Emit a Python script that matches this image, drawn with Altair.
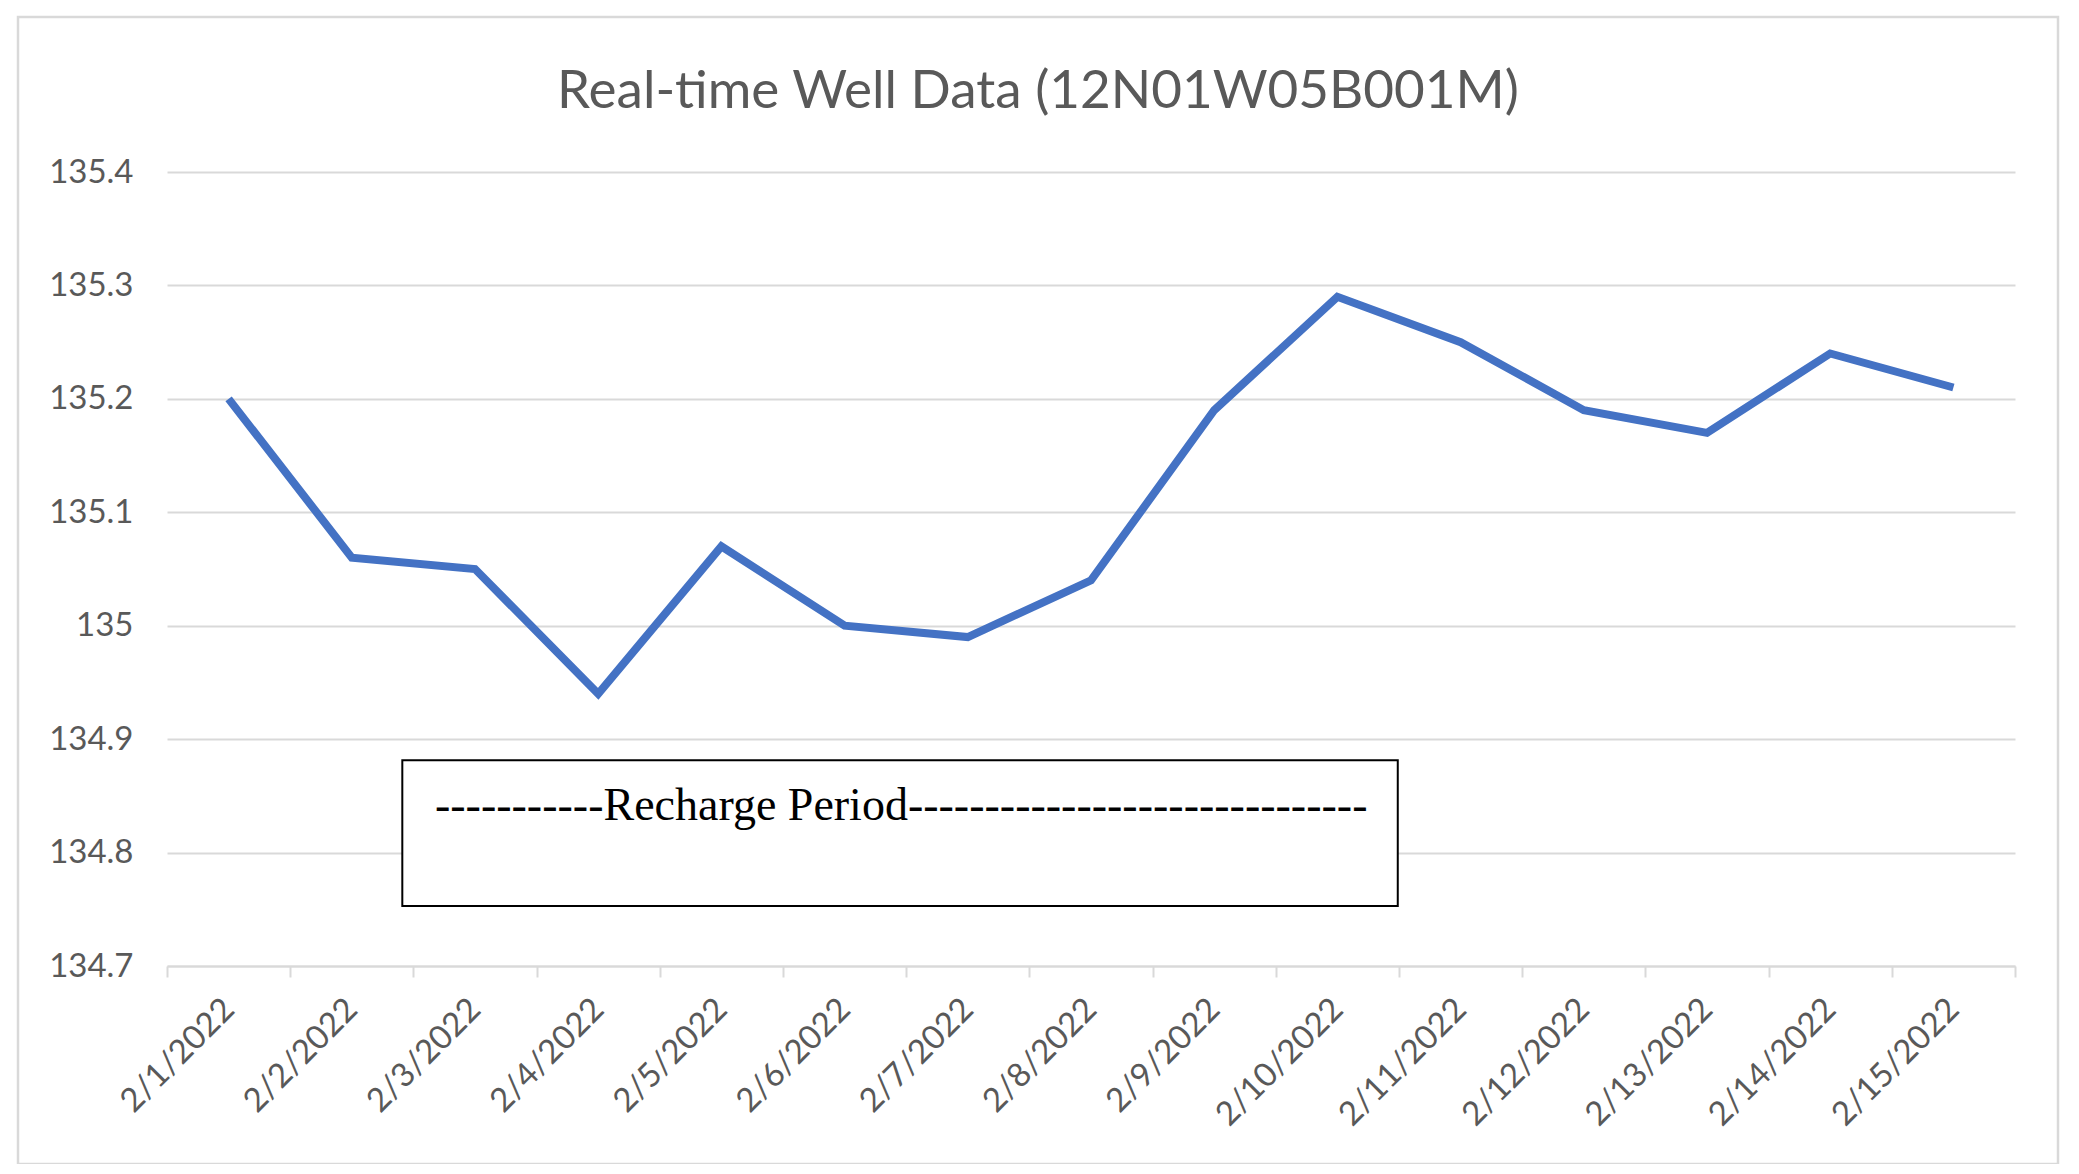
import altair as alt
import pandas as pd

# ---- data ----
dates = ["2/1/2022", "2/2/2022", "2/3/2022", "2/4/2022", "2/5/2022",
         "2/6/2022", "2/7/2022", "2/8/2022", "2/9/2022", "2/10/2022",
         "2/11/2022", "2/12/2022", "2/13/2022", "2/14/2022", "2/15/2022"]
levels = [135.20, 135.06, 135.05, 134.94, 135.07,
          135.00, 134.99, 135.04, 135.19, 135.29,
          135.25, 135.19, 135.17, 135.24, 135.21]
y_ticks = [134.7, 134.8, 134.9, 135.0, 135.1, 135.2, 135.3, 135.4]

title_text = "Real-time Well Data (12N01W05B001M)"
note_text = "-" * 11 + "Recharge Period" + "-" * 30

# annotation box, in data units (x = category index, y = level)
box_x = [1.41]
box_x2 = [9.49]
box_y = [134.753]
box_y2 = [134.8815]
note_x = [1.675]
note_y = [134.829]

W, H = 1848, 794
GRID = "#D9D9D9"
TXT = "#595959"
FONT = "Lato"

df = pd.DataFrame({"date": dates, "level": levels})
box_df = pd.DataFrame({"x": box_x, "x2": box_x2, "y": box_y, "y2": box_y2})
note_df = pd.DataFrame({"x": note_x, "y": note_y, "t": [note_text]})

yscale = alt.Scale(domain=[y_ticks[0], y_ticks[-1]], nice=False, zero=False)
qx = alt.Scale(domain=[-0.5, len(dates) - 0.5], nice=False, zero=False)
yaxis = alt.Axis(values=y_ticks, format=".1~f", domain=False, ticks=False,
                 gridColor=GRID, gridWidth=2, labelPadding=34,
                 labelFont=FONT, labelFontSize=33, labelColor=TXT)

frame = alt.Chart(pd.DataFrame({"a": [0]})).mark_rect(
    fillOpacity=0, stroke=GRID, strokeWidth=2.5
).encode(
    x=alt.value(-149), x2=alt.value(1891), y=alt.value(-155), y2=alt.value(992)
)

line = alt.Chart(df).mark_line(color="#4472C4", strokeWidth=8, strokeJoin="miter").encode(
    x=alt.X("date:N", sort=None, title=None,
            scale=alt.Scale(paddingInner=0, paddingOuter=0),
            axis=alt.Axis(tickBand="extent", tickSize=11, tickColor=GRID, tickWidth=2,
                          domainColor=GRID, domainWidth=2, grid=False,
                          labelAngle=-45, labelAlign="right", labelBaseline="middle",
                          labelPadding=27, labelFont=FONT, labelFontSize=33,
                          labelColor=TXT)),
    y=alt.Y("level:Q", scale=yscale, title=None, axis=yaxis),
)

box = alt.Chart(box_df).mark_rect(fill="white", stroke="black", strokeWidth=2).encode(
    x=alt.X("x:Q", scale=qx, axis=None),
    x2="x2:Q",
    y=alt.Y("y:Q", scale=yscale, title=None, axis=yaxis),
    y2="y2:Q",
)

note = alt.Chart(note_df).mark_text(
    font="Liberation Serif", fontSize=46, color="black", align="left", baseline="alphabetic"
).encode(
    x=alt.X("x:Q", scale=qx, axis=None),
    y=alt.Y("y:Q", scale=yscale, title=None, axis=yaxis),
    text="t:N",
)

annot = alt.layer(box, note)

chart = alt.layer(frame, line, annot).resolve_scale(x="independent").properties(
    width=W, height=H,
    title=alt.TitleParams(title_text, font=FONT, fontSize=53, fontWeight="normal",
                          color=TXT, anchor="middle", dx=-53, offset=-145,
                          baseline="alphabetic"),
    autosize=alt.AutoSizeParams(type="none"),
    padding={"left": 159, "top": 164, "right": 56, "bottom": 198},
).configure(
    background="white",
    view=alt.ViewConfig(strokeWidth=0, stroke="transparent"),
)

chart.save("out.html", embed_options={"renderer": "svg", "actions": False})
